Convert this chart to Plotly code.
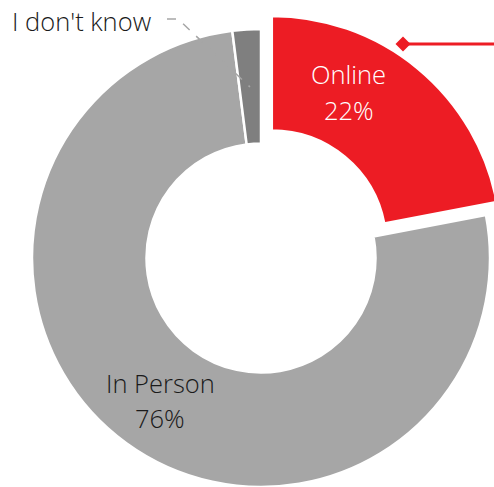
import plotly.graph_objects as go

# Survey responses: how people prefer to take part
labels = ["Online", "In Person", "I don't know"]
values = [22, 76, 2]
colors = ["#ED1C24", "#A6A6A6", "#7F7F7F"]
pulls = [0.074, 0, 0]

# Canvas and ring geometry (pixels)
W, H = 508, 505
CX, CY, R = 261, 258, 229
HOLE = 0.5

FONT = "Open Sans"
FS = 25.5
WEIGHT = 300


def px(x):
    return x / W


def py(y):
    return (H - y) / H


half = R * (1 + max(pulls))
fig = go.Figure(
    go.Pie(
        labels=labels,
        values=values,
        marker=dict(colors=colors, line=dict(color="white", width=2.5)),
        pull=pulls,
        hole=HOLE,
        sort=False,
        direction="clockwise",
        rotation=0,
        textinfo="none",
        hoverinfo="label+percent",
        domain=dict(x=[px(CX - half), px(CX + half)],
                    y=[py(CY + half), py(CY - half)]),
    )
)

annotations = [
    # Online
    dict(x=px(348), y=py(74), text=labels[0], font=dict(color="white")),
    dict(x=px(349), y=py(110), text=f"{values[0]}%", font=dict(color="white")),
    # In Person
    dict(x=px(160), y=py(383), text=labels[1], font=dict(color="#1A1A1A")),
    dict(x=px(160), y=py(418), text=f"{values[1]}%", font=dict(color="#1A1A1A")),
    # I don't know (outside, with leader)
    dict(x=px(10), y=py(21), text=labels[2], xanchor="left",
         font=dict(color="#1A1A1A")),
]
for a in annotations:
    a.setdefault("xanchor", "center")
    a.update(xref="paper", yref="paper", yanchor="middle", showarrow=False)
    a["font"].update(family=FONT, size=FS, weight=WEIGHT)

shapes = [
    # dashed leader to the small slice
    dict(type="path", xref="paper", yref="paper",
         path=f"M {px(167)} {py(19)} L {px(178)} {py(19)} L {px(250)} {py(87)}",
         line=dict(color="#A6A6A6", width=1.5, dash="dash")),
    # red pointer line with diamond tip
    dict(type="line", xref="paper", yref="paper",
         x0=px(403), y0=py(44), x1=px(W), y1=py(44),
         line=dict(color="#ED1C24", width=3)),
    dict(type="path", xref="paper", yref="paper",
         path=(f"M {px(395.5)} {py(44)} L {px(403)} {py(36.5)} "
               f"L {px(410.5)} {py(44)} L {px(403)} {py(51.5)} Z"),
         fillcolor="#ED1C24", line=dict(color="#ED1C24", width=0)),
]

fig.update_layout(
    width=W,
    height=H,
    margin=dict(l=0, r=0, t=0, b=0),
    paper_bgcolor="white",
    plot_bgcolor="white",
    showlegend=False,
    annotations=annotations,
    shapes=shapes,
)

fig.write_html(
    "out.html",
    config={"displayModeBar": False},
    post_script=("document.documentElement.style.overflow='hidden';"
                 "document.body.style.overflow='hidden';"
                 "document.body.style.margin='0';"),
)
